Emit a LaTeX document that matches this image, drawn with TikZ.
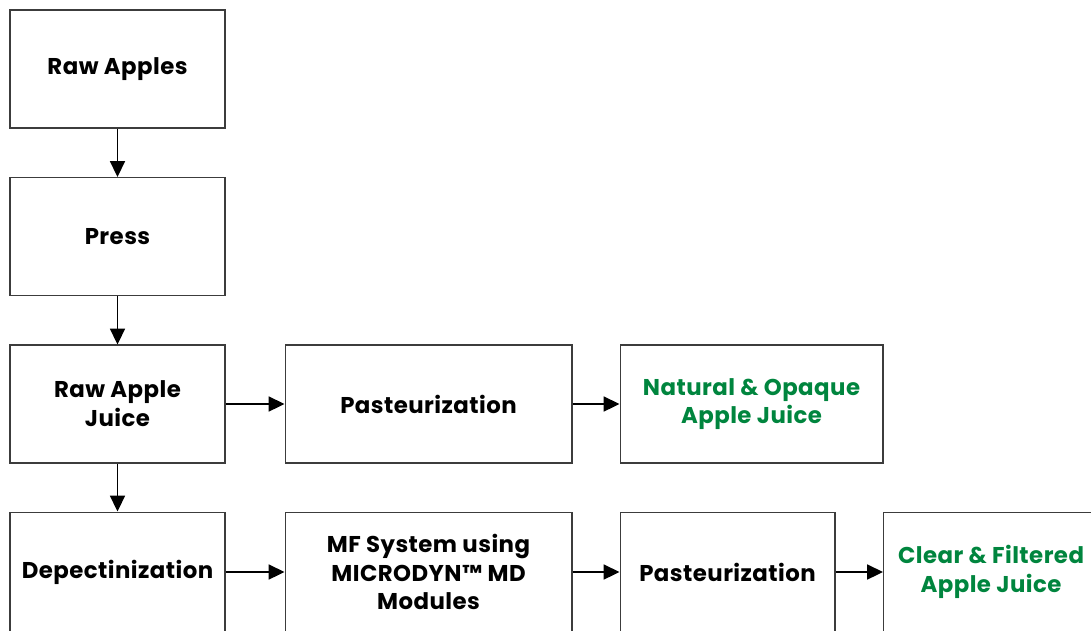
\documentclass[tikz,border=0pt]{standalone}
\usepackage{fontspec}
\setmainfont{Poppins}[LetterSpace=2.0]
\definecolor{juicegreen}{RGB}{0, 133, 62}
\definecolor{boxline}{RGB}{60, 60, 60}
\usetikzlibrary{arrows.meta, positioning}

\begin{document}
\begin{tikzpicture}[
  x=0.02cm, y=-0.02cm,
  box/.style={draw=boxline, line width=0.6pt, minimum height=2.36cm, minimum width=4.3cm, align=center, font=\fontsize{13}{16.4}\selectfont\bfseries, inner sep=2pt},
  arrow/.style={-{Triangle[length=9pt, width=8.5pt]}, line width=1pt}
]
  \clip (0, 0) rectangle (1091, 630);
  \useasboundingbox (0, 0) rectangle (1091, 630);

  % Main column
  \node[box] (apples) at (117.5, 69) {Raw Apples};
  \node[box] (press) at (117.5, 236.5) {Press};
  \node[box] (rawjuice) at (117.5, 404) {Raw Apple\\Juice};
  \node[box, minimum height=2.4cm] (depect) at (117.5, 572) {Depectinization};

  % Opaque line
  \node[box, minimum width=5.74cm] (past1) at (428.5, 404) {Pasteurization};
  \node[box, minimum width=5.26cm, text=juicegreen] (opaque) at (751.5, 404) {Natural \& Opaque\\Apple Juice};

  % Clear line
  \node[box, minimum width=5.74cm, minimum height=2.4cm] (mf) at (428.5, 572) {MF System using\\MICRODYN™ MD\\Modules};
  \node[box, minimum height=2.4cm] (past2) at (727.5, 572) {Pasteurization};
  \node[box, minimum height=2.4cm, text=juicegreen] (clear) at (991, 572) {Clear \& Filtered\\Apple Juice};

  \draw[arrow] (apples) -- (press);
  \draw[arrow] (press) -- (rawjuice);
  \draw[arrow] (rawjuice) -- (depect);
  \draw[arrow] (rawjuice) -- (past1);
  \draw[arrow] (past1) -- (opaque);
  \draw[arrow] (depect) -- (mf);
  \draw[arrow] (mf) -- (past2);
  \draw[arrow] (past2) -- (clear);
\end{tikzpicture}
\end{document}
